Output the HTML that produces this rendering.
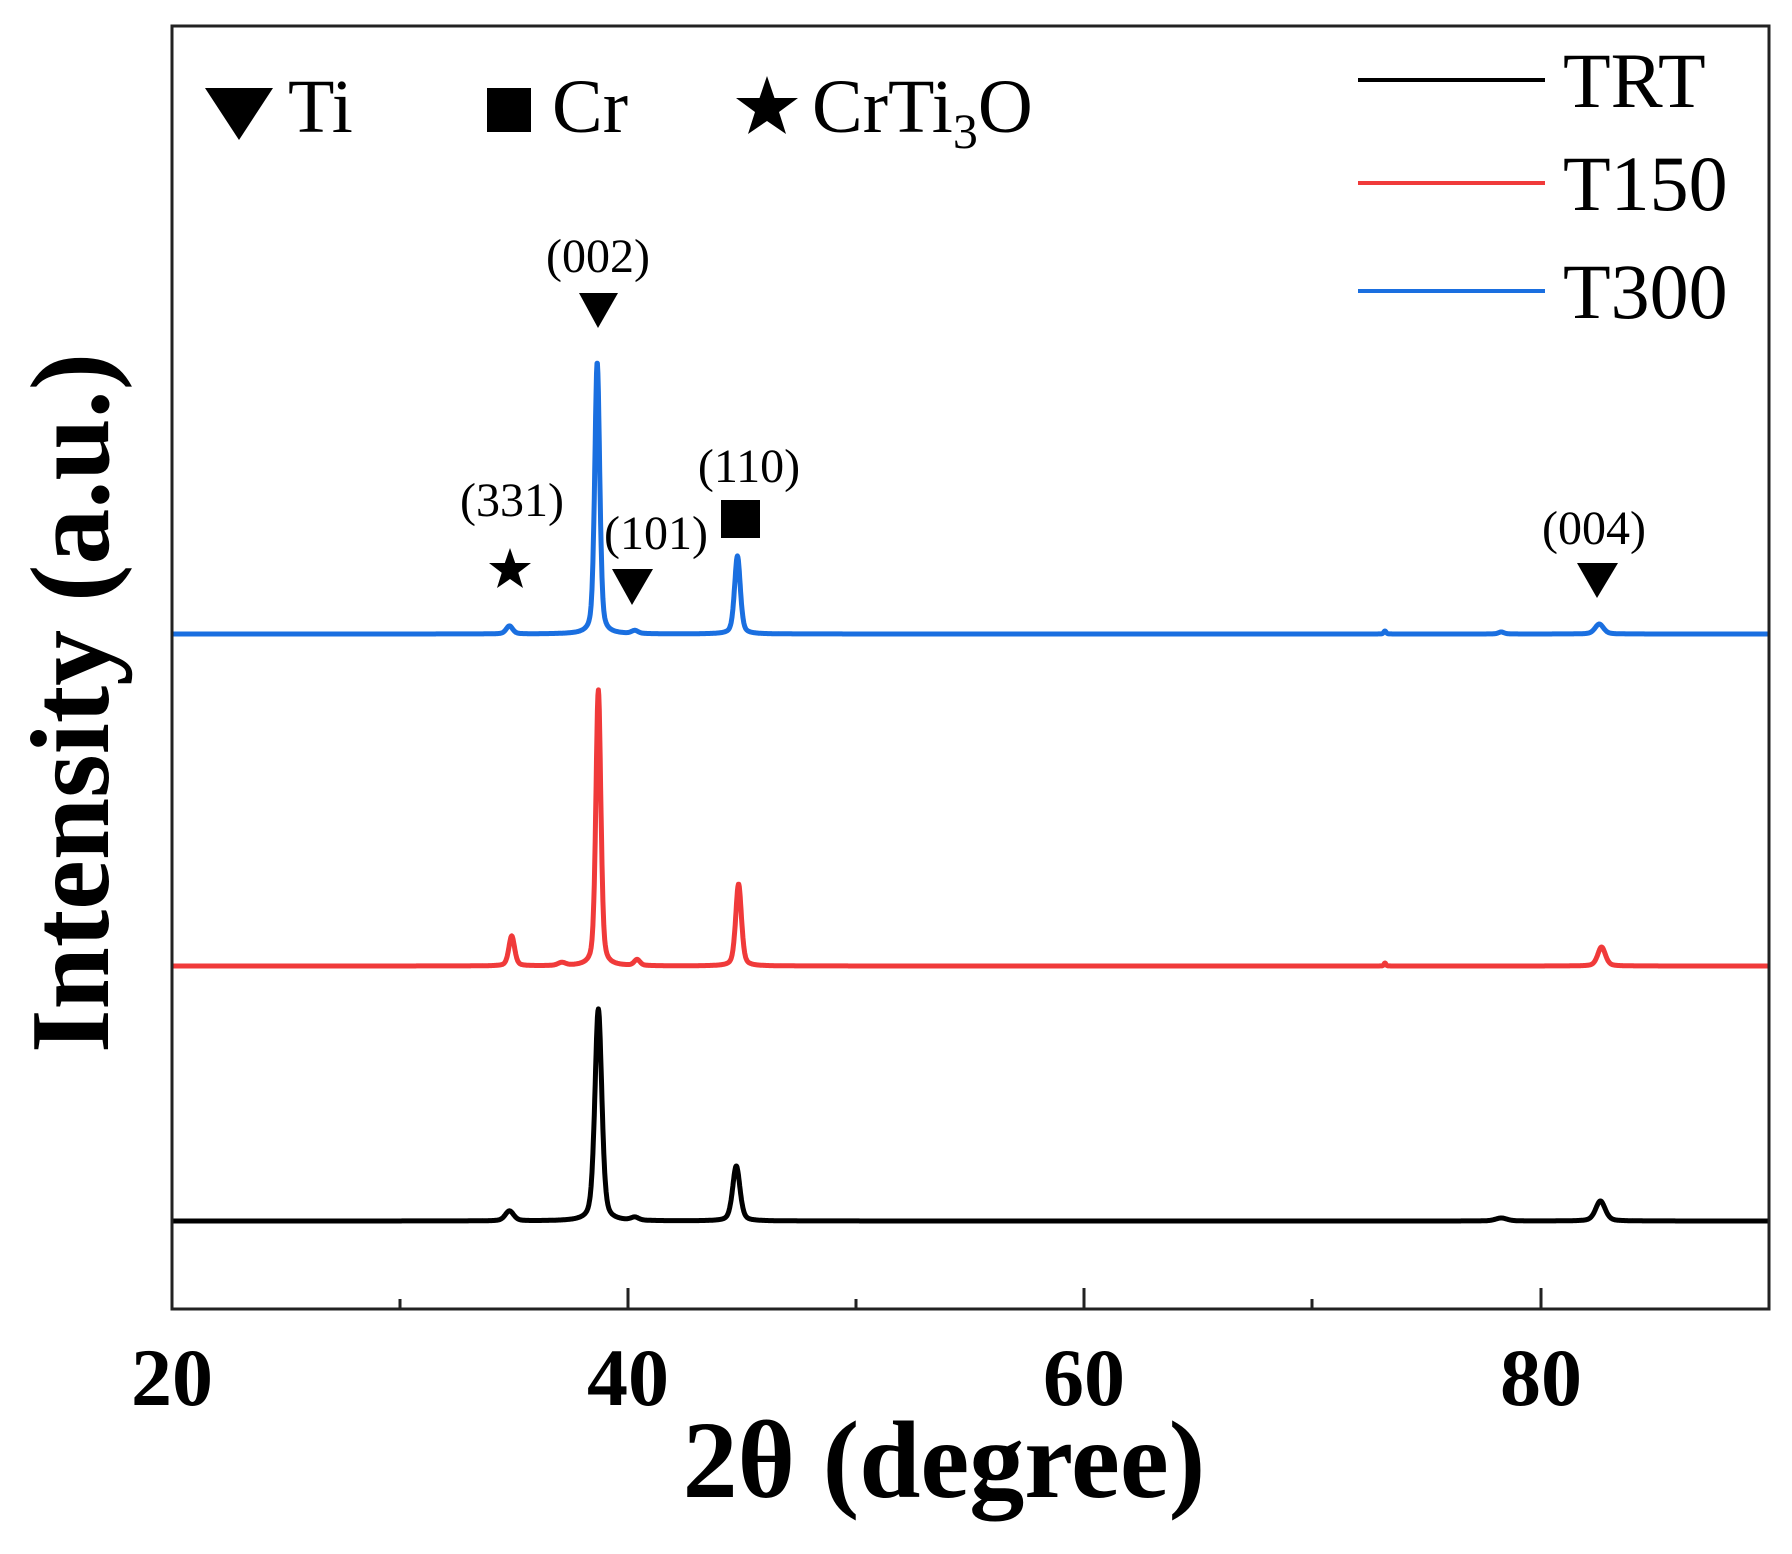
<!DOCTYPE html>
<html><head><meta charset="utf-8"><style>html,body{margin:0;padding:0;background:#fff}svg{display:block}</style></head>
<body>
<svg id="s" width="1792" height="1554" viewBox="0 0 1792 1554" xmlns="http://www.w3.org/2000/svg" font-family="'Liberation Serif', serif">
<rect width="1792" height="1554" fill="#fff"/>
<g id="curves" fill="none" stroke-width="5" stroke-linejoin="round"></g>
<rect x="172" y="26" width="1597" height="1283" fill="none" stroke="#222" stroke-width="3"/>
<g stroke="#222" stroke-width="3">
<line x1="628" y1="1309" x2="628" y2="1288"/><line x1="1084" y1="1309" x2="1084" y2="1288"/><line x1="1541" y1="1309" x2="1541" y2="1288"/>
<line x1="400" y1="1309" x2="400" y2="1299"/><line x1="856" y1="1309" x2="856" y2="1299"/><line x1="1312" y1="1309" x2="1312" y2="1299"/>
</g>
<g font-weight="bold" font-size="82" text-anchor="middle" fill="#000">
<text x="172" y="1405">20</text><text x="628" y="1405">40</text><text x="1084" y="1405">60</text><text x="1541" y="1405">80</text>
</g>
<text x="944" y="1497" font-weight="bold" font-size="110" text-anchor="middle">2θ (degree)</text>
<text transform="translate(108,703) rotate(-90)" font-weight="bold" font-size="112" text-anchor="middle">Intensity (a.u.)</text>
<g fill="#000">
<polygon points="205,88 273,88 239,140"/>
<text x="288" y="132" font-size="76">Ti</text>
<rect x="487" y="88" width="44" height="44"/>
<text x="552" y="132" font-size="76">Cr</text>
<polygon points="0,-32 7.5,-10 31,-10 12,4 19,26 0,13 -19,26 -12,4 -31,-10 -7.5,-10" transform="translate(767,108)"/>
<text x="812" y="132" font-size="76">CrTi<tspan font-size="50" dy="16">3</tspan><tspan dy="-16">O</tspan></text>
</g>
<g stroke-width="4">
<line x1="1358" y1="80" x2="1545" y2="80" stroke="#000"/>
<line x1="1358" y1="183" x2="1545" y2="183" stroke="#f03a3a"/>
<line x1="1358" y1="291" x2="1545" y2="291" stroke="#1a6fe0"/>
</g>
<g font-size="78" fill="#000">
<text x="1563" y="107">TRT</text><text x="1563" y="210">T150</text><text x="1563" y="318">T300</text>
</g>
<g font-size="48" text-anchor="middle" fill="#000">
<text x="598" y="272">(002)</text>
<text x="512" y="516">(331)</text>
<text x="656" y="549">(101)</text>
<text x="749" y="482">(110)</text>
<text x="1594" y="544">(004)</text>
</g>
<g fill="#000">
<polygon points="579,293 618,293 598,328"/>
<polygon points="612,569 653,569 632,605"/>
<rect x="721" y="500" width="39" height="38"/>
<polygon points="1577,563 1618,563 1597,598"/>
<polygon points="0,-22 5.2,-7 21,-7 8.3,2.8 13,18 0,9 -13,18 -8.3,2.8 -21,-7 -5.2,-7" transform="translate(510,570)"/>
</g>
</svg>
<script>
function X(d){return 172+(d-20)*22.8;}
function mk(base,peaks,color){
  var p='';
  for(var d=20;d<=90;d+=0.02){
    var y=0;
    for(var i=0;i<peaks.length;i++){var k=peaks[i];var t=(d-k[0])/k[2];y+=k[1]*(0.4/(1+t*t)+0.6*Math.exp(-0.693*t*t));}
    p+=(p?'L':'M')+X(d).toFixed(1)+','+(base-y).toFixed(1);
  }
  var e=document.createElementNS('http://www.w3.org/2000/svg','path');
  e.setAttribute('d',p);e.setAttribute('stroke',color);
  document.getElementById('curves').appendChild(e);
}
mk(634,[[38.65,272,0.13],[44.8,78,0.15],[34.8,8,0.17],[40.3,3,0.17],[82.6,10,0.22],[73.2,3,0.06],[78.3,2,0.15]],'#1a6fe0');
mk(966,[[38.7,276,0.13],[44.85,82,0.15],[34.9,30,0.15],[40.4,6,0.15],[37.1,3,0.2],[82.7,19,0.2],[73.2,3,0.05]],'#f03a3a');
mk(1221,[[38.7,212,0.18],[44.75,55,0.19],[34.8,10,0.22],[40.3,3,0.2],[82.65,20,0.25],[78.3,3,0.3]],'#000');
</script>
</body></html>
